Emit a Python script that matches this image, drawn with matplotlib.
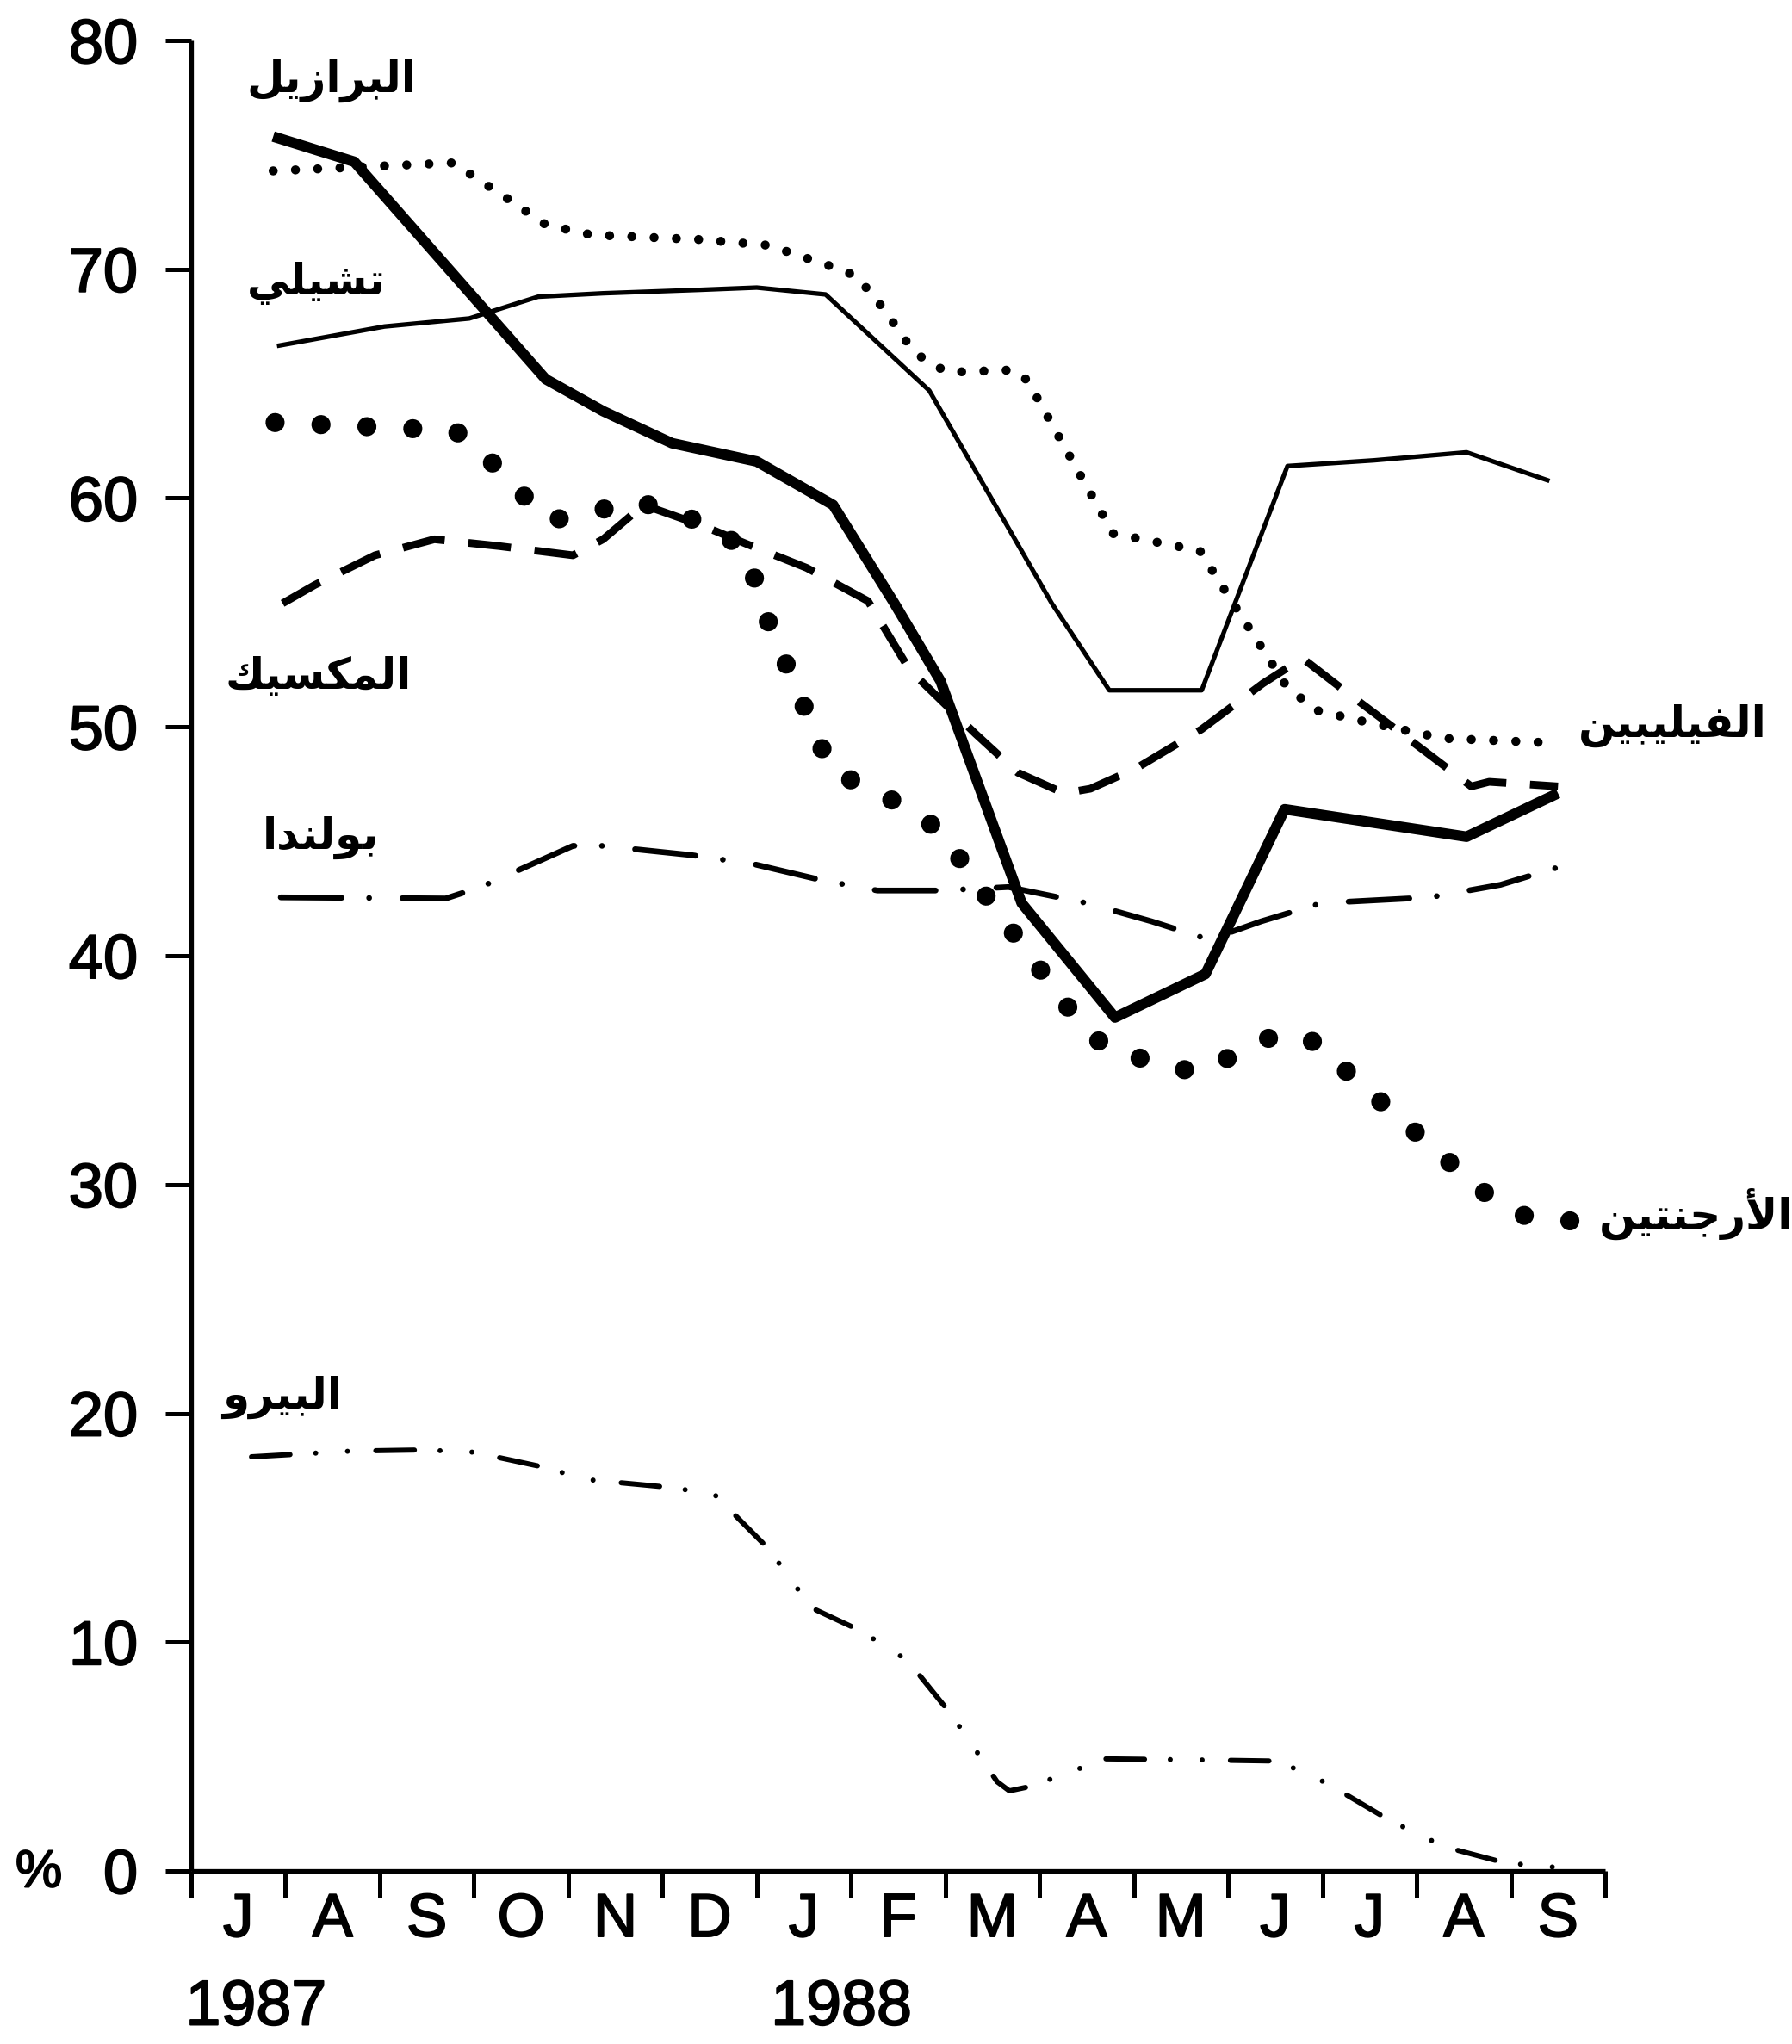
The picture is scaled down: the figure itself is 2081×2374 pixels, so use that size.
import matplotlib
matplotlib.use("Agg")
import matplotlib.pyplot as plt
import matplotlib.patheffects as pe
from matplotlib.transforms import blended_transform_factory

# ---------------------------------------------------------------------------
# Data: month index 0 = July 1987 ... 14 = September 1988; values in %
# ---------------------------------------------------------------------------
month_labels = ["J", "A", "S", "O", "N", "D", "J", "F", "M", "A", "M", "J", "J", "A", "S"]
year_labels = ["1987", "1988"]
year_positions = [0.19, 6.4]
y_ticks = [0, 10, 20, 30, 40, 50, 60, 70, 80]

brazil_x = [0.37, 1.23, 3.26, 3.87, 4.6, 5.5, 6.31, 6.96, 7.45, 8.31, 9.3, 10.26, 11.1, 13.03, 14.0]
brazil_y = [75.8, 74.7, 65.2, 63.8, 62.4, 61.6, 59.7, 55.4, 52.0, 42.3, 37.3, 39.2, 46.4, 45.2, 47.1]

philippines_x = [0.37, 2.28, 2.85, 3.26, 3.75, 4.89, 5.62, 6.31, 6.56, 6.84, 7.13, 7.29, 7.53, 8.22,
                 8.37, 8.58, 9.28, 10.2, 10.46, 11.1, 11.41, 11.87, 12.78, 13.95]
philippines_y = [74.3, 74.65, 73.1, 71.95, 71.5, 71.3, 71.05, 70.1, 69.7, 68.3, 66.6, 66.0, 65.5, 65.6,
                 65.15, 63.6, 58.45, 57.7, 56.0, 51.9, 50.75, 50.3, 49.5, 49.3]

chile_x = [0.41, 1.55, 2.45, 3.18, 3.87, 4.89, 5.5, 6.23, 7.33, 8.63, 9.24, 10.22, 11.13, 12.05, 13.03, 13.91]
chile_y = [66.65, 67.5, 67.85, 68.8, 68.95, 69.1, 69.2, 68.9, 64.7, 55.4, 51.6, 51.6, 61.4, 61.65, 62.0, 60.75]

mexico_x = [0.47, 0.81, 1.45, 2.08, 2.77, 3.55, 3.87, 4.3, 4.92, 5.39, 6.03, 6.68, 7.12, 7.82, 8.27,
            8.76, 9.04, 9.53, 10.22, 10.87, 11.29, 11.73, 12.6, 13.08, 13.27, 14.0]
mexico_y = [55.4, 56.2, 57.5, 58.2, 57.9, 57.5, 58.2, 59.7, 58.8, 58.0, 56.95, 55.5, 52.5, 49.7, 48.0,
            47.1, 47.3, 48.2, 49.9, 51.9, 53.0, 51.6, 48.9, 47.4, 47.6, 47.4]

argentina_x = [0.39, 2.3, 2.61, 2.95, 3.28, 3.73, 4.21, 5.09, 5.42, 5.55, 6.3, 6.74, 7.48, 7.72, 8.89,
               9.22, 9.68, 10.15, 10.6, 11.03, 11.45, 11.78, 13.2, 13.64, 14.15]
argentina_y = [63.3, 62.95, 61.9, 60.45, 59.0, 59.35, 59.9, 58.7, 57.4, 55.3, 48.0, 47.3, 45.4, 43.8, 37.25,
               35.9, 35.4, 34.9, 35.7, 36.6, 36.2, 34.85, 29.7, 28.65, 28.4]

poland_x = [0.45, 2.2, 2.57, 3.55, 3.87, 4.8, 5.47, 6.19, 6.78, 7.45, 8.17, 9.0, 9.69, 10.3, 10.85,
            11.49, 12.64, 13.39, 14.03]
poland_y = [42.55, 42.5, 43.0, 44.8, 44.8, 44.4, 44.0, 43.3, 42.85, 42.85, 43.0, 42.3, 41.5, 40.7, 41.5,
            42.3, 42.55, 43.1, 43.9]

peru_x = [0.14, 1.2, 1.96, 2.5, 3.18, 3.71, 4.48, 5.04, 5.62, 6.08, 6.6, 7.1, 7.57, 8.05, 8.18, 8.41,
          8.94, 9.14, 10.22, 11.03, 11.54, 12.22, 12.8, 13.44, 14.0]
peru_y = [18.1, 18.35, 18.4, 18.3, 17.7, 17.1, 16.8, 16.5, 14.1, 11.5, 10.5, 9.2, 6.8, 3.9, 3.5, 3.7,
          4.5, 4.9, 4.85, 4.8, 3.85, 2.2, 1.05, 0.35, 0.15]

country_names = {
    "brazil": "البرازيل",
    "chile": "تشيلي",
    "mexico": "المكسيك",
    "poland": "بولندا",
    "peru": "البيرو",
    "philippines": "الفيليبين",
    "argentina": "الأرجنتين",
}

# ---------------------------------------------------------------------------
# Minimal Arabic shaping (matplotlib lays glyphs out left-to-right without
# contextual forms, so pick presentation forms and reverse the order).
# forms: isolated, final, initial, medial (None -> letter does not join forward)
# ---------------------------------------------------------------------------
FORMS = {
    "ا": ("\uFE8D", "\uFE8E", None, None),
    "أ": ("\uFE83", "\uFE84", None, None),
    "ب": ("\uFE8F", "\uFE90", "\uFE91", "\uFE92"),
    "ت": ("\uFE95", "\uFE96", "\uFE97", "\uFE98"),
    "ج": ("\uFE9D", "\uFE9E", "\uFE9F", "\uFEA0"),
    "د": ("\uFEA9", "\uFEAA", None, None),
    "ر": ("\uFEAD", "\uFEAE", None, None),
    "ز": ("\uFEAF", "\uFEB0", None, None),
    "س": ("\uFEB1", "\uFEB2", "\uFEB3", "\uFEB4"),
    "ش": ("\uFEB5", "\uFEB6", "\uFEB7", "\uFEB8"),
    "ف": ("\uFED1", "\uFED2", "\uFED3", "\uFED4"),
    "ك": ("\uFED9", "\uFEDA", "\uFEDB", "\uFEDC"),
    "ل": ("\uFEDD", "\uFEDE", "\uFEDF", "\uFEE0"),
    "م": ("\uFEE1", "\uFEE2", "\uFEE3", "\uFEE4"),
    "ن": ("\uFEE5", "\uFEE6", "\uFEE7", "\uFEE8"),
    "و": ("\uFEED", "\uFEEE", None, None),
    "ي": ("\uFEF1", "\uFEF2", "\uFEF3", "\uFEF4"),
}
LAM_ALEF = {"ا": ("\uFEFB", "\uFEFC"), "أ": ("\uFEF7", "\uFEF8")}


def shape_arabic(word):
    tokens = []
    i = 0
    while i < len(word):
        c = word[i]
        if c == "ل" and i + 1 < len(word) and word[i + 1] in LAM_ALEF:
            tokens.append(("LA", word[i + 1]))
            i += 2
        else:
            tokens.append(("C", c))
            i += 1

    def joins_forward(tok):
        return tok[0] == "C" and FORMS[tok[1]][2] is not None

    out = []
    for k, tok in enumerate(tokens):
        prev_joins = k > 0 and joins_forward(tokens[k - 1])
        if tok[0] == "LA":
            iso, fin = LAM_ALEF[tok[1]]
            out.append(fin if prev_joins else iso)
            continue
        iso, fin, ini, med = FORMS[tok[1]]
        next_joins = joins_forward(tok) and k + 1 < len(tokens)
        if prev_joins and next_joins:
            out.append(med)
        elif prev_joins:
            out.append(fin)
        elif next_joins:
            out.append(ini)
        else:
            out.append(iso)
    return "".join(reversed(out))


# ---------------------------------------------------------------------------
# Figure
# ---------------------------------------------------------------------------
W, H, DPI = 2081, 2374, 100
fig = plt.figure(figsize=(W / DPI, H / DPI), dpi=DPI, facecolor="white")

ax_left, ax_right, ax_top, ax_bottom = 222, 1864, 47, 2173
ax = fig.add_axes([ax_left / W, 1 - ax_bottom / H,
                   (ax_right - ax_left) / W, (ax_bottom - ax_top) / H])
ax.set_xlim(-0.5, 14.5)
ax.set_ylim(0, 80)

for side in ("top", "right"):
    ax.spines[side].set_visible(False)
for side in ("left", "bottom"):
    ax.spines[side].set_linewidth(3.8)
    ax.spines[side].set_capstyle("butt")

num_font = "Liberation Sans"
heavier = [pe.withStroke(linewidth=1.4, foreground="black")]

ax.set_yticks(y_ticks)
ax.set_yticklabels([str(v) for v in y_ticks], fontsize=52, family=num_font)
ax.tick_params(axis="y", direction="out", length=21.5, width=3.6, pad=23)

ax.set_xticks([i - 0.5 for i in range(len(month_labels) + 1)])
ax.set_xticklabels([])
ax.tick_params(axis="x", which="major", direction="out", length=22, width=3.6)
ax.set_xticks(list(range(len(month_labels))), minor=True)
ax.set_xticklabels(month_labels, minor=True, fontsize=51, family=num_font)
ax.tick_params(axis="x", which="minor", length=0, pad=18)

for lab in ax.get_yticklabels() + ax.get_xticklabels(minor=True):
    lab.set_path_effects(heavier)

xtrans = blended_transform_factory(ax.transData, ax.transAxes)
for pos, lab in zip(year_positions, year_labels):
    ax.text(pos, -0.0748, lab, transform=xtrans, ha="center", va="center",
            fontsize=53, family=num_font, path_effects=heavier)

fig.text(45 / W, 1 - 2176 / H, "%", ha="center", va="center", fontsize=44,
         family=num_font, path_effects=heavier)

# ---------------------------------------------------------------------------
# Series
# ---------------------------------------------------------------------------
common = dict(color="black", clip_on=False, solid_joinstyle="round")

ax.plot(brazil_x, brazil_y, lw=8.8, solid_capstyle="butt", **common)
ax.plot(chile_x, chile_y, lw=3.8, solid_capstyle="butt", **common)
ax.plot(philippines_x, philippines_y, lw=7.6, linestyle=(0, (0.001, 2.45)),
        dash_capstyle="round", **common)
ax.plot(argentina_x, argentina_y, lw=16, linestyle=(0, (0.001, 2.4)),
        dash_capstyle="round", **common)
ax.plot(mexico_x, mexico_y, lw=6.4, linestyle=(0, (5.6, 3.1)),
        dash_capstyle="butt", **common)
ax.plot(poland_x, poland_y, lw=4.8, linestyle=(0, (10.6, 4.8, 0.001, 5.8)),
        dash_capstyle="round", **common)
ax.plot(peru_x, peru_y, lw=4.3, linestyle=(0, (7.5, 5.0, 0.001, 6.2, 0.001, 5.5)),
        dash_capstyle="round", **common)

# ---------------------------------------------------------------------------
# Country names
# ---------------------------------------------------------------------------
label_pos = {
    "brazil": (385, 107),
    "chile": (367, 342),
    "mexico": (370, 800),
    "poland": (372, 986),
    "peru": (328, 1636),
    "philippines": (1942, 856),
    "argentina": (1970, 1428),
}
for key, (px, py) in label_pos.items():
    fig.text(px / W, 1 - py / H, shape_arabic(country_names[key]),
             ha="center", va="baseline", fontsize=36, fontweight="bold",
             family=["DejaVu Sans"])

fig.savefig("out.png", dpi=DPI, facecolor="white")
